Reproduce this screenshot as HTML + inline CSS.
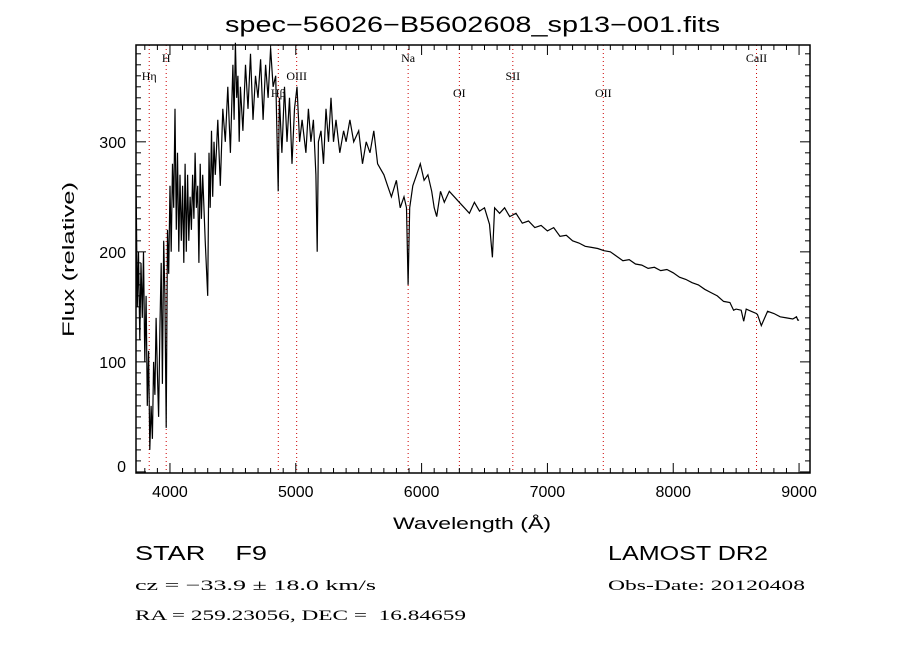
<!DOCTYPE html>
<html><head><meta charset="utf-8"><style>
body{margin:0;background:#fff;}
svg{display:block;}
text{fill:#000;}
.sf{font-family:"Liberation Serif",serif;}
.ss{font-family:"Liberation Sans",sans-serif;}
</style></head><body>
<svg id="chart" width="900" height="650" viewBox="0 0 900 650" xmlns="http://www.w3.org/2000/svg">
<rect width="900" height="650" fill="#fff"/>
<g id="lines"></g>
<g id="ticks"></g>
<path id="spec" fill="none" stroke="#000" stroke-width="1.2"/>
<rect x="136" y="45" width="674" height="428" fill="none" stroke="#000" stroke-width="1.5"/>
<text class="ss" x="225" y="32" font-size="22" textLength="495" lengthAdjust="spacingAndGlyphs">spec−56026−B5602608_sp13−001.fits</text>
<text class="ss" x="393" y="529" font-size="17" textLength="158" lengthAdjust="spacingAndGlyphs">Wavelength (Å)</text>
<text class="ss" x="0" y="0" font-size="17" textLength="155" lengthAdjust="spacingAndGlyphs" transform="translate(74,337) rotate(-90)">Flux (relative)</text>
<text class="ss" x="135" y="560" font-size="20" xml:space="preserve" textLength="132" lengthAdjust="spacingAndGlyphs">STAR    F9</text>
<text class="ss" x="608" y="560" font-size="20" textLength="160" lengthAdjust="spacingAndGlyphs">LAMOST DR2</text>
<text class="sf" x="135" y="590" font-size="15" textLength="241" lengthAdjust="spacingAndGlyphs">cz = −33.9 ± 18.0 km/s</text>
<text class="sf" x="608" y="590" font-size="15" textLength="197" lengthAdjust="spacingAndGlyphs">Obs-Date: 20120408</text>
<text class="sf" x="135" y="620" font-size="15" xml:space="preserve" textLength="331" lengthAdjust="spacingAndGlyphs">RA = 259.23056, DEC =  16.84659</text>
</svg>
<script>
const wavelengths=[3730,3740,3750,3760,3770,3780,3790,3800,3810,3820,3830,3840,3850,3860,3870,3880,3890,3900,3910,3920,3930,3940,3950,3960,3970,3980,3990,4000,4010,4020,4030,4040,4050,4060,4070,4080,4090,4100,4110,4120,4130,4140,4150,4160,4170,4180,4190,4200,4210,4220,4230,4240,4250,4260,4280,4300,4310,4320,4330,4340,4350,4360,4380,4400,4420,4440,4460,4480,4500,4510,4520,4530,4540,4550,4560,4580,4600,4620,4640,4660,4680,4700,4720,4740,4760,4780,4800,4820,4840,4860,4870,4890,4910,4930,4950,4970,4990,5010,5030,5050,5080,5100,5120,5140,5160,5170,5180,5200,5220,5240,5260,5280,5300,5320,5350,5380,5400,5430,5460,5500,5530,5560,5590,5620,5650,5700,5730,5760,5800,5830,5860,5880,5893,5905,5930,5960,5990,6020,6050,6080,6100,6120,6150,6180,6220,6260,6300,6340,6380,6420,6460,6500,6540,6563,6580,6620,6660,6700,6750,6800,6850,6900,6950,7000,7050,7100,7150,7200,7250,7300,7350,7400,7450,7500,7550,7600,7650,7700,7750,7800,7850,7900,7950,8000,8050,8100,8150,8200,8250,8300,8350,8400,8450,8480,8500,8540,8560,8580,8620,8660,8670,8700,8750,8800,8850,8900,8950,8980,8990,9000];
const fluxValues=[270,150,200,120,190,140,200,100,160,60,110,20,60,30,100,70,140,90,50,130,190,80,210,160,40,220,180,260,200,280,240,330,220,290,200,270,210,260,190,280,200,270,210,250,220,270,230,290,240,260,190,280,230,270,210,160,290,240,310,250,300,270,320,260,330,300,350,290,370,320,390,340,360,300,350,310,370,330,380,320,360,340,375,320,370,340,385,350,360,255,340,290,350,300,340,280,330,350,300,320,290,330,300,320,270,200,300,310,280,330,300,340,300,320,290,310,300,320,300,310,280,300,290,310,280,270,260,250,265,240,250,240,170,240,260,270,280,265,270,255,240,232,255,245,255,250,245,240,235,245,237,240,225,195,240,235,240,232,235,226,228,222,224,219,222,214,215,210,208,205,204,203,201,200,196,192,193,189,188,185,186,183,184,181,177,175,172,170,166,163,160,155,154,147,148,147,137,148,146,144,143,133,146,144,141,140,139,141,138,138,10,0];
const lineNames=["Hη","H","Hβ","OIII","Na","OI","SII","OII","CaII"];
const lineWaves=[3835,3970,4861,5007,5893,6300,6725,7444,8662];
const lineLabelRow=[1,0,2,1,0,2,1,2,0];
const xTickLabels=[4000,5000,6000,7000,8000,9000];
const yTickLabels=[0,100,200,300];

const L=136,R=810,T=45,B=473;
const xmin=3730,xmax=9087,ymin=-1,ymax=388;
const X=w=>L+(w-xmin)/(xmax-xmin)*(R-L);
const Y=f=>B-(f-ymin)/(ymax-ymin)*(B-T);
const NS="http://www.w3.org/2000/svg";
function mk(tag,attrs,parent){const e=document.createElementNS(NS,tag);for(const k in attrs)e.setAttribute(k,attrs[k]);parent.appendChild(e);return e;}

let d="";
wavelengths.forEach((w,i)=>{d+=(i?"L":"M")+X(w).toFixed(1)+" "+Y(fluxValues[i]).toFixed(1);});
document.getElementById("spec").setAttribute("d",d);

const lg=document.getElementById("lines");
const rowY=[62,80,97];
lineWaves.forEach((w,i)=>{
  const ln=mk("line",{x1:X(w),x2:X(w),y1:T,y2:B,stroke:"#c00","stroke-width":1,"stroke-dasharray":"1,3"},lg);
  
  
  const t=mk("text",{x:X(w),y:rowY[lineLabelRow[i]],"font-size":12,"text-anchor":"middle","class":"sf"},lg);
  t.textContent=lineNames[i];
  
  
});

const tg=document.getElementById("ticks");
for(let w=3800;w<=9000;w+=100){
  const major=w%1000===0, len=major?10:5;
  mk("line",{x1:X(w),x2:X(w),y1:B,y2:B-len,stroke:"#000"},tg);
  mk("line",{x1:X(w),x2:X(w),y1:T,y2:T+len,stroke:"#000"},tg);
}
for(let f=0;f<=380;f+=10){
  const major=f%100===0, len=major?10:5;
  mk("line",{x1:L,x2:L+len,y1:Y(f),y2:Y(f),stroke:"#000"},tg);
  mk("line",{x1:R,x2:R-len,y1:Y(f),y2:Y(f),stroke:"#000"},tg);
}
xTickLabels.forEach(v=>{
  const t=mk("text",{x:X(v),y:B+24,"font-size":16,"text-anchor":"middle","class":"ss"},tg);
  t.textContent=v;
  
  
});
yTickLabels.forEach(v=>{
  const t=mk("text",{x:L-10,y:Math.min(Y(v)+6,B-1),"font-size":16,"text-anchor":"end","class":"ss"},tg);
  t.textContent=v;
  
  
});
</script>
</body></html>
